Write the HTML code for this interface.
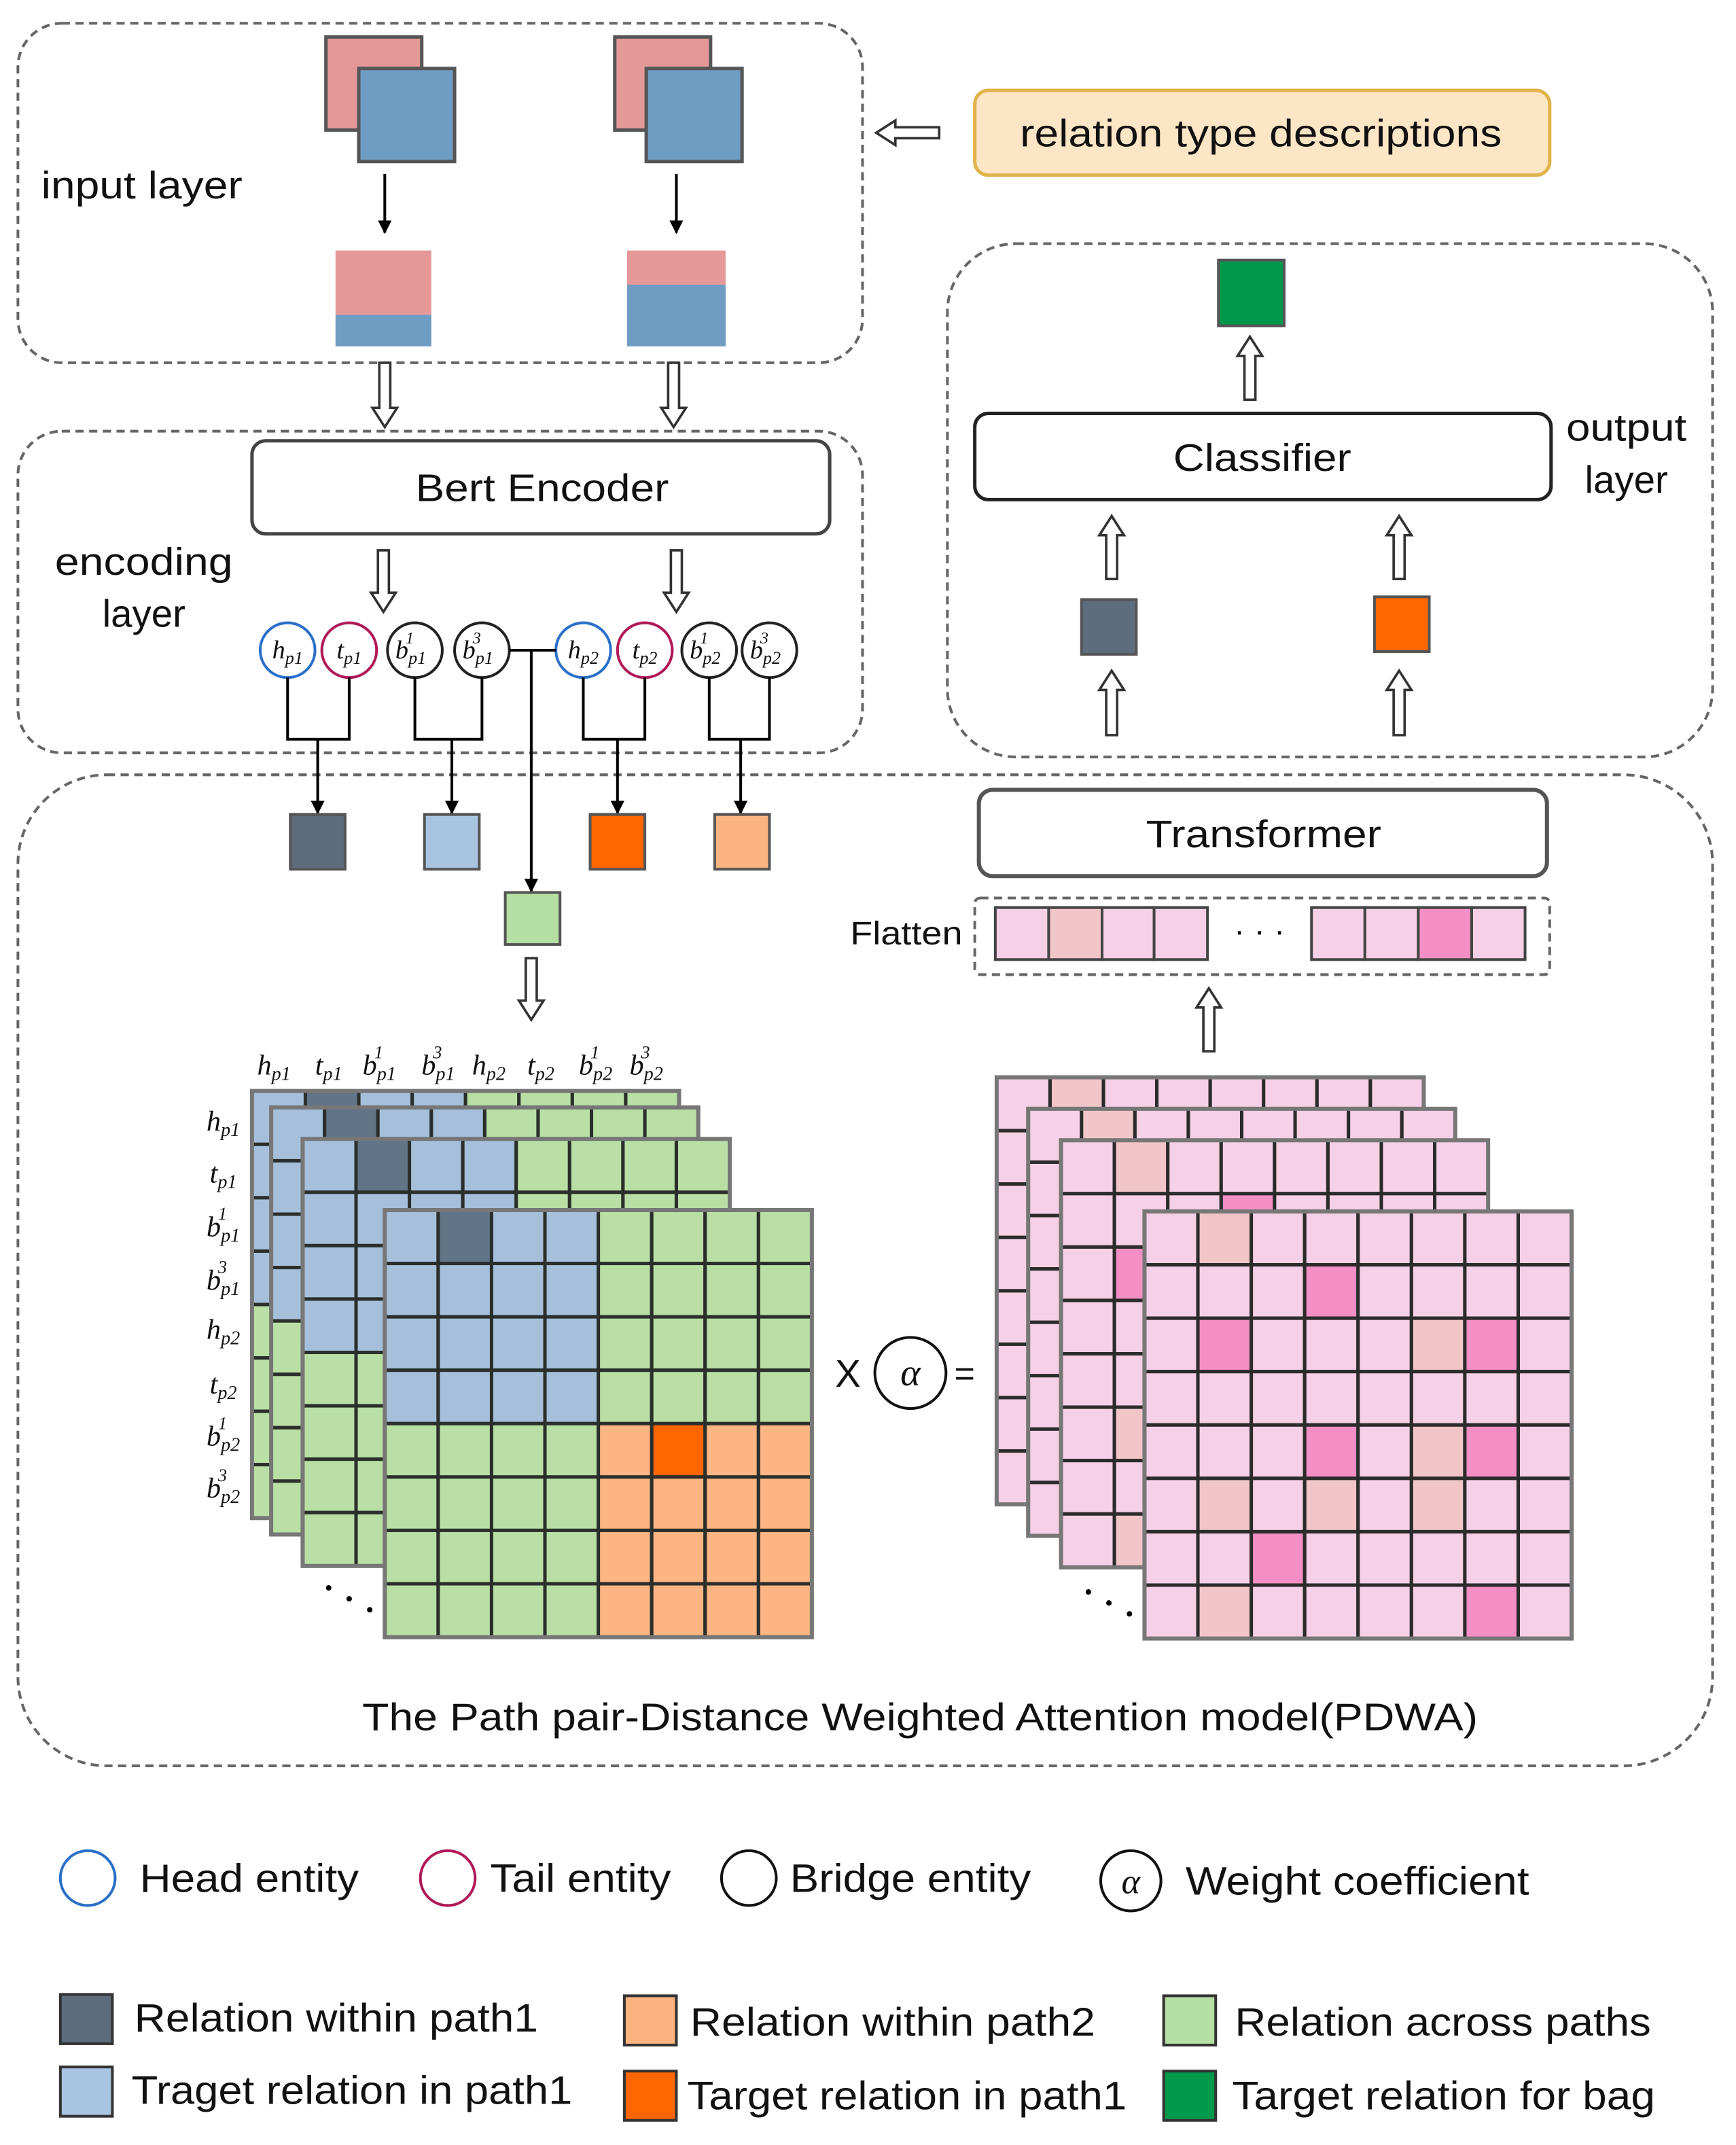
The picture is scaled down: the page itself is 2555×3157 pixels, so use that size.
<!DOCTYPE html>
<html><head><meta charset="utf-8">
<style>
html,body{margin:0;padding:0;background:#fff;}
svg{display:block;}
text{font-family:"Liberation Sans",sans-serif;fill:#111;}
.m{font-family:"Liberation Serif",serif;font-style:italic;}
</style></head>
<body>
<svg id="s" xmlns="http://www.w3.org/2000/svg" width="2555" height="3157" viewBox="0 0 1268 1567">
<defs>
<marker id="ah" markerWidth="10" markerHeight="10" refX="9" refY="5" orient="auto" markerUnits="userSpaceOnUse"><path d="M0,0 L10,5 L0,10 z" fill="#000"/></marker>
</defs>
<g fill="none" stroke="#666" stroke-width="2" stroke-dasharray="6,4">
<rect x="13" y="17" width="617" height="248" rx="32"/>
<rect x="13" y="315" width="617" height="235" rx="32"/>
<rect x="692" y="178" width="559" height="375" rx="50"/>
<rect x="13" y="566" width="1238" height="724" rx="65"/>
<rect x="712" y="656" width="420" height="56" rx="4"/>
</g>
<rect x="238" y="27" width="70" height="68" fill="#e59898" stroke="#555" stroke-width="2.5"/>
<rect x="262" y="50" width="70" height="68" fill="#6f9cc3" stroke="#555" stroke-width="2.5"/>
<rect x="449" y="27" width="70" height="68" fill="#e59898" stroke="#555" stroke-width="2.5"/>
<rect x="472" y="50" width="70" height="68" fill="#6f9cc3" stroke="#555" stroke-width="2.5"/>
<rect x="245" y="183" width="70" height="47" fill="#e59898"/><rect x="245" y="230" width="70" height="23" fill="#6f9cc3"/>
<rect x="458" y="183" width="72" height="25" fill="#e59898"/><rect x="458" y="208" width="72" height="45" fill="#6f9cc3"/>
<g stroke="#000" stroke-width="2" fill="none">
<line x1="281" y1="127" x2="281" y2="170" marker-end="url(#ah)"/>
<line x1="494" y1="127" x2="494" y2="170" marker-end="url(#ah)"/>
</g>
<text x="30" y="145" font-size="28" textLength="147" lengthAdjust="spacingAndGlyphs">input layer</text>
<rect x="712" y="66" width="420" height="62" rx="10" fill="#fde6c6" stroke="#e0b24a" stroke-width="2.5"/>
<text x="921" y="107" font-size="28" text-anchor="middle" textLength="352" lengthAdjust="spacingAndGlyphs">relation type descriptions</text>
<g fill="#fff" stroke="#333" stroke-width="1.8" id="ha"></g>
<rect x="184" y="322" width="422" height="68" rx="10" fill="#fff" stroke="#444" stroke-width="2.5"/>
<text x="396" y="366" font-size="28" text-anchor="middle" textLength="185" lengthAdjust="spacingAndGlyphs">Bert Encoder</text>
<text x="105" y="420" font-size="28" text-anchor="middle" textLength="130" lengthAdjust="spacingAndGlyphs">encoding</text>
<text x="105" y="458" font-size="28" text-anchor="middle">layer</text>
<g fill="none" stroke-width="2">
<circle cx="210" cy="475" r="20" stroke="#2a6fc9"/>
<circle cx="255" cy="475" r="20" stroke="#b0185a"/>
<circle cx="303" cy="475" r="20" stroke="#222"/>
<circle cx="352" cy="475" r="20" stroke="#222"/>
<circle cx="426" cy="475" r="20" stroke="#2a6fc9"/>
<circle cx="471" cy="475" r="20" stroke="#b0185a"/>
<circle cx="518" cy="475" r="20" stroke="#222"/>
<circle cx="562" cy="475" r="20" stroke="#222"/>
</g>
<g class="m" font-size="19" text-anchor="middle">
<text x="210" y="481" class="m">h<tspan font-size="13" dy="4">p1</tspan></text>
<text x="255" y="481" class="m">t<tspan font-size="13" dy="4">p1</tspan></text>
<text x="300" y="481" class="m">b<tspan font-size="13" dy="4">p1</tspan><tspan font-size="12" dx="-15" dy="-15">1</tspan></text>
<text x="349" y="481" class="m">b<tspan font-size="13" dy="4">p1</tspan><tspan font-size="12" dx="-15" dy="-15">3</tspan></text>
<text x="426" y="481" class="m">h<tspan font-size="13" dy="4">p2</tspan></text>
<text x="471" y="481" class="m">t<tspan font-size="13" dy="4">p2</tspan></text>
<text x="515" y="481" class="m">b<tspan font-size="13" dy="4">p2</tspan><tspan font-size="12" dx="-15" dy="-15">1</tspan></text>
<text x="559" y="481" class="m">b<tspan font-size="13" dy="4">p2</tspan><tspan font-size="12" dx="-15" dy="-15">3</tspan></text>
</g>
<g stroke="#000" stroke-width="2" fill="none">
<polyline points="210,495 210,540 255,540 255,495"/>
<polyline points="303,495 303,540 352,540 352,495"/>
<polyline points="426,495 426,540 471,540 471,495"/>
<polyline points="518,495 518,540 562,540 562,495"/>
<line x1="232" y1="540" x2="232" y2="594" marker-end="url(#ah)"/>
<line x1="330" y1="540" x2="330" y2="594" marker-end="url(#ah)"/>
<line x1="451" y1="540" x2="451" y2="594" marker-end="url(#ah)"/>
<line x1="541" y1="540" x2="541" y2="594" marker-end="url(#ah)"/>
<line x1="372" y1="475" x2="406" y2="475"/>
<line x1="388" y1="475" x2="388" y2="651" marker-end="url(#ah)"/>
</g>
<g stroke="#555" stroke-width="2">
<rect x="212" y="595" width="40" height="40" fill="#5d6d7e"/>
<rect x="310" y="595" width="40" height="40" fill="#a9c4e0"/>
<rect x="431" y="595" width="40" height="40" fill="#ff6600"/>
<rect x="522" y="595" width="40" height="40" fill="#fbb480"/>
<rect x="369" y="652" width="40" height="38" fill="#b5dfa3"/>
<rect x="890" y="190" width="48" height="48" fill="#00994c"/>
<rect x="790" y="438" width="40" height="40" fill="#5d6d7e"/>
<rect x="1004" y="436" width="40" height="40" fill="#ff6600"/>
</g>
<rect x="712" y="302" width="421" height="63" rx="10" fill="#fff" stroke="#222" stroke-width="2.5"/>
<text x="922" y="344" font-size="28" text-anchor="middle" textLength="130" lengthAdjust="spacingAndGlyphs">Classifier</text>
<text x="1188" y="322" font-size="28" text-anchor="middle" textLength="88" lengthAdjust="spacingAndGlyphs">output</text>
<text x="1188" y="360" font-size="28" text-anchor="middle">layer</text>
<rect x="715" y="577" width="415" height="63" rx="10" fill="#fff" stroke="#555" stroke-width="3"/>
<text x="923" y="619" font-size="28" text-anchor="middle" textLength="172" lengthAdjust="spacingAndGlyphs">Transformer</text>
<text x="621" y="690" font-size="24" textLength="82" lengthAdjust="spacingAndGlyphs">Flatten</text>
<g stroke="#444" stroke-width="2">
<rect x="727" y="663" width="39" height="38" fill="#f5d0e6"/>
<rect x="766" y="663" width="39" height="38" fill="#f2c6c8"/>
<rect x="805" y="663" width="38" height="38" fill="#f5d0e6"/>
<rect x="843" y="663" width="39" height="38" fill="#f5d0e6"/>
<rect x="958" y="663" width="39" height="38" fill="#f5d0e6"/>
<rect x="997" y="663" width="39" height="38" fill="#f5d0e6"/>
<rect x="1036" y="663" width="39" height="38" fill="#f48fc5"/>
<rect x="1075" y="663" width="39" height="38" fill="#f5d0e6"/>
</g>
<text x="920" y="688" font-size="24" text-anchor="middle">· · ·</text>
<g id="mats"></g>
<g class="m" font-size="21" text-anchor="middle">
<text x="200" y="785" class="m">h<tspan font-size="14" dy="4">p1</tspan></text>
<text x="240" y="785" class="m">t<tspan font-size="14" dy="4">p1</tspan></text>
<text x="277" y="785" class="m">b<tspan font-size="14" dy="4">p1</tspan><tspan font-size="13" dx="-16" dy="-16">1</tspan></text>
<text x="320" y="785" class="m">b<tspan font-size="14" dy="4">p1</tspan><tspan font-size="13" dx="-16" dy="-16">3</tspan></text>
<text x="357" y="785" class="m">h<tspan font-size="14" dy="4">p2</tspan></text>
<text x="395" y="785" class="m">t<tspan font-size="14" dy="4">p2</tspan></text>
<text x="435" y="785" class="m">b<tspan font-size="14" dy="4">p2</tspan><tspan font-size="13" dx="-16" dy="-16">1</tspan></text>
<text x="472" y="785" class="m">b<tspan font-size="14" dy="4">p2</tspan><tspan font-size="13" dx="-16" dy="-16">3</tspan></text>
<text x="163" y="826" class="m">h<tspan font-size="14" dy="4">p1</tspan></text>
<text x="163" y="864" class="m">t<tspan font-size="14" dy="4">p1</tspan></text>
<text x="163" y="903" class="m">b<tspan font-size="14" dy="4">p1</tspan><tspan font-size="13" dx="-16" dy="-16">1</tspan></text>
<text x="163" y="942" class="m">b<tspan font-size="14" dy="4">p1</tspan><tspan font-size="13" dx="-16" dy="-16">3</tspan></text>
<text x="163" y="978" class="m">h<tspan font-size="14" dy="4">p2</tspan></text>
<text x="163" y="1018" class="m">t<tspan font-size="14" dy="4">p2</tspan></text>
<text x="163" y="1056" class="m">b<tspan font-size="14" dy="4">p2</tspan><tspan font-size="13" dx="-16" dy="-16">1</tspan></text>
<text x="163" y="1094" class="m">b<tspan font-size="14" dy="4">p2</tspan><tspan font-size="13" dx="-16" dy="-16">3</tspan></text>
</g>
<g fill="#000"><circle cx="240" cy="1160" r="2"/><circle cx="255" cy="1168" r="2"/><circle cx="270" cy="1176" r="2"/>
<circle cx="795" cy="1163" r="2"/><circle cx="810" cy="1171" r="2"/><circle cx="825" cy="1179" r="2"/></g>
<text x="610" y="1013" font-size="28">X</text>
<circle cx="665" cy="1003" r="26" fill="#fff" stroke="#111" stroke-width="2"/>
<text x="665" y="1012" font-size="28" class="m" text-anchor="middle">α</text>
<text x="697" y="1012" font-size="26">=</text>
<text x="672" y="1264" font-size="28" text-anchor="middle" textLength="815" lengthAdjust="spacingAndGlyphs">The Path pair-Distance Weighted Attention model(PDWA)</text>
<g fill="none" stroke-width="2">
<circle cx="64" cy="1372" r="20" stroke="#2a6fc9"/>
<circle cx="327" cy="1372" r="20" stroke="#b0185a"/>
<circle cx="547" cy="1372" r="20" stroke="#111"/>
<circle cx="826" cy="1374" r="22" stroke="#111"/>
</g>
<text x="826" y="1383" font-size="26" class="m" text-anchor="middle">α</text>
<g font-size="29">
<text x="102" y="1382" textLength="160" lengthAdjust="spacingAndGlyphs">Head entity</text>
<text x="358" y="1382" textLength="132" lengthAdjust="spacingAndGlyphs">Tail entity</text>
<text x="577" y="1382" textLength="176" lengthAdjust="spacingAndGlyphs">Bridge entity</text>
<text x="866" y="1384" textLength="251" lengthAdjust="spacingAndGlyphs">Weight coefficient</text>
<text x="98" y="1484" textLength="295" lengthAdjust="spacingAndGlyphs">Relation within path1</text>
<text x="504" y="1487" textLength="296" lengthAdjust="spacingAndGlyphs">Relation within path2</text>
<text x="902" y="1487" textLength="304" lengthAdjust="spacingAndGlyphs">Relation across paths</text>
<text x="96" y="1537" textLength="322" lengthAdjust="spacingAndGlyphs">Traget relation in path1</text>
<text x="502" y="1541" textLength="321" lengthAdjust="spacingAndGlyphs">Target relation in path1</text>
<text x="900" y="1541" textLength="309" lengthAdjust="spacingAndGlyphs">Target relation for bag</text>
</g>
<g stroke="#333" stroke-width="2">
<rect x="44" y="1457" width="38" height="36" fill="#5d6d7e"/>
<rect x="456" y="1458" width="38" height="36" fill="#fbb480"/>
<rect x="850" y="1458" width="38" height="36" fill="#b5dfa3"/>
<rect x="44" y="1510" width="38" height="36" fill="#a9c4e0"/>
<rect x="456" y="1513" width="38" height="36" fill="#ff6600"/>
<rect x="850" y="1513" width="38" height="36" fill="#00994c"/>
</g>
<script>
var NS="http://www.w3.org/2000/svg";
function el(p,t,a){var e=document.createElementNS(NS,t);for(var k in a)e.setAttribute(k,a[k]);p.appendChild(e);return e;}
var ha=document.getElementById("ha");
function harrow(x,y1,y2){
 var d=y2>y1?1:-1,hl=14,sw=4,hw=9;
 var yb=y2-d*hl;
 el(ha,"path",{d:"M"+(x-sw)+","+y1+" L"+(x-sw)+","+yb+" L"+(x-hw)+","+yb+" L"+x+","+y2+" L"+(x+hw)+","+yb+" L"+(x+sw)+","+yb+" L"+(x+sw)+","+y1+" Z"});
}
harrow(281,265,312);harrow(492,265,312);harrow(280,402,447);harrow(494,402,447);
harrow(388,700,745);harrow(913,292,246);harrow(812,423,377);harrow(1022,423,377);
harrow(812,537,490);harrow(1022,537,490);harrow(883,768,722);
el(ha,"path",{d:"M640,97 L654,88 L654,93 L686,93 L686,101 L654,101 L654,106 Z"});
var g=document.getElementById("mats");
var c=39;
function leftColor(r,k,front){
 if(front&&r==4&&k==5)return "#ff6600";
 if(r==0&&k==1)return "#627487";
 if(r<4&&k<4)return "#a6c0dc";
 if(r>=4&&k>=4)return "#fdb583";
 return "#b9dfa5";
}
[[184,797],[198,809],[221,832],[281,884]].forEach(function(p,i){
 var f=i==3;
 for(var r=0;r<8;r++)for(var k=0;k<8;k++)
  el(g,"rect",{x:p[0]+k*c,y:p[1]+r*c,width:c,height:c,fill:leftColor(r,k,f),stroke:"#2b2f2b","stroke-width":2.5});
 el(g,"rect",{x:p[0],y:p[1],width:8*c,height:8*c,fill:"none",stroke:"#777","stroke-width":3});
});
var hot={"1,3":1,"2,1":1,"2,6":1,"4,3":1,"4,6":1,"6,2":1,"7,6":1};
var peach={"0,1":1,"2,5":1,"4,5":1,"5,1":1,"5,3":1,"5,5":1,"7,1":1};
[[728,787],[751,810],[775,833],[836,885]].forEach(function(p,i){
 for(var r=0;r<8;r++)for(var k=0;k<8;k++){
  var key=r+","+k,col="#f5d0e6";
  if(hot[key])col="#f48fc5";else if(peach[key])col="#f2c6c8";
  el(g,"rect",{x:p[0]+k*c,y:p[1]+r*c,width:c,height:c,fill:col,stroke:"#2b2b2b","stroke-width":2.5});
 }
 el(g,"rect",{x:p[0],y:p[1],width:8*c,height:8*c,fill:"none",stroke:"#777","stroke-width":3});
});
</script>
</svg>
</body></html>
